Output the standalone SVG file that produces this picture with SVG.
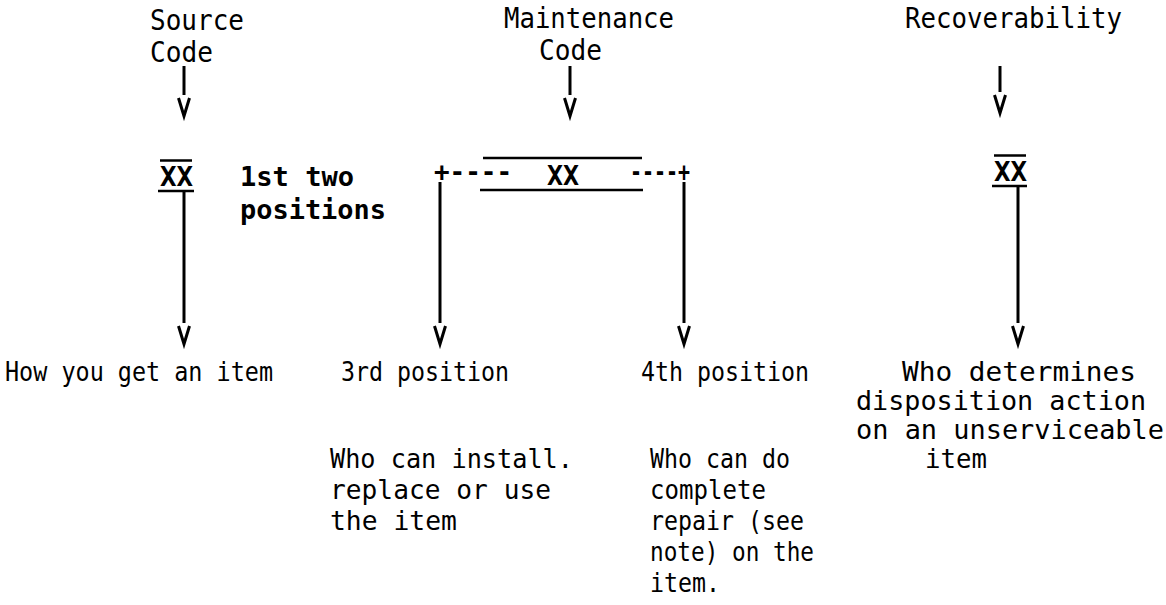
<svg xmlns="http://www.w3.org/2000/svg" width="1166" height="605" viewBox="0 0 1166 605">
<style>
.t{font-family:"DejaVu Sans Mono","Liberation Mono",monospace;font-size:27px;fill:#000}
.top{font-size:29px}
.b{font-family:"DejaVu Sans Mono","Liberation Mono",monospace;font-size:26px;font-weight:bold;fill:#000}
.ln{stroke:#000;stroke-width:2.5;fill:none}
.stem{stroke:#000;stroke-width:3;fill:none}
</style>
<defs>
<marker id="vh" markerUnits="userSpaceOnUse" orient="auto" refX="0" refY="0" markerWidth="30" markerHeight="20" overflow="visible">
<path d="M3,-5.5 L21,0 L3,5.5" fill="none" stroke="#000" stroke-width="3" stroke-linejoin="miter"/>
</marker>
</defs>
<rect width="1166" height="605" fill="#fff"/>

<g id="label-source">
<text class="t top" x="150" y="30" textLength="94" lengthAdjust="spacingAndGlyphs">Source</text>
<text class="t top" x="150" y="62" textLength="63" lengthAdjust="spacingAndGlyphs">Code</text>
</g>
<g id="label-maintenance">
<text class="t top" x="504" y="28" textLength="170" lengthAdjust="spacingAndGlyphs">Maintenance</text>
<text class="t top" x="539" y="60" textLength="63" lengthAdjust="spacingAndGlyphs">Code</text>
</g>
<g id="label-recoverability">
<text class="t top" x="905" y="28" textLength="217" lengthAdjust="spacingAndGlyphs">Recoverability</text>
</g>

<g id="node-source-xx">
<line class="ln" x1="160" y1="160.5" x2="192" y2="160.5"/>
<text class="b" x="160" y="186" textLength="33" lengthAdjust="spacingAndGlyphs">XX</text>
<line class="ln" x1="158" y1="191" x2="194" y2="191"/>
</g>
<g id="note-first-two">
<text class="b" x="240" y="186" textLength="114" lengthAdjust="spacingAndGlyphs">1st two</text>
<text class="b" x="240" y="219" textLength="146" lengthAdjust="spacingAndGlyphs">positions</text>
</g>
<g id="node-maintenance-xx">
<line class="ln" x1="483" y1="158" x2="642" y2="158"/>
<line class="ln" x1="480" y1="190" x2="643" y2="190"/>
<text class="b" x="434" y="181" textLength="78" lengthAdjust="spacingAndGlyphs">+----</text>
<text class="b" x="547" y="185" textLength="32" lengthAdjust="spacingAndGlyphs">XX</text>
<text class="b" x="630" y="181" textLength="60" lengthAdjust="spacingAndGlyphs">----+</text>
</g>
<g id="node-recoverability-xx">
<line class="ln" x1="994" y1="155.5" x2="1026" y2="155.5"/>
<text class="b" x="994" y="181" textLength="33" lengthAdjust="spacingAndGlyphs">XX</text>
<line class="ln" x1="992" y1="186" x2="1027" y2="186"/>
</g>

<g id="connectors">
<line class="stem" x1="184" y1="66" x2="184" y2="95" marker-end="url(#vh)"/>
<line class="stem" x1="570" y1="66" x2="570" y2="95" marker-end="url(#vh)"/>
<line class="stem" x1="1000" y1="66" x2="1000" y2="92" marker-end="url(#vh)"/>
<line class="stem" x1="184" y1="192" x2="184" y2="323" marker-end="url(#vh)"/>
<line class="stem" x1="440" y1="182" x2="440" y2="323" marker-end="url(#vh)"/>
<line class="stem" x1="684" y1="182" x2="684" y2="323" marker-end="url(#vh)"/>
<line class="stem" x1="1018" y1="187" x2="1018" y2="323" marker-end="url(#vh)"/>
</g>

<g id="out-source">
<text class="t" x="5" y="381" textLength="268" lengthAdjust="spacingAndGlyphs">How you get an item</text>
</g>
<g id="out-third">
<text class="t" x="341" y="381" textLength="168" lengthAdjust="spacingAndGlyphs">3rd position</text>
<text class="t" x="330" y="468" textLength="243" lengthAdjust="spacingAndGlyphs">Who can install.</text>
<text class="t" x="330" y="499" textLength="221" lengthAdjust="spacingAndGlyphs">replace or use</text>
<text class="t" x="330" y="530" textLength="127" lengthAdjust="spacingAndGlyphs">the item</text>
</g>
<g id="out-fourth">
<text class="t" x="641" y="381" textLength="168" lengthAdjust="spacingAndGlyphs">4th position</text>
<text class="t" x="650" y="468" textLength="140" lengthAdjust="spacingAndGlyphs">Who can do</text>
<text class="t" x="650" y="499" textLength="116" lengthAdjust="spacingAndGlyphs">complete</text>
<text class="t" x="650" y="530" textLength="154" lengthAdjust="spacingAndGlyphs">repair (see</text>
<text class="t" x="650" y="561" textLength="164" lengthAdjust="spacingAndGlyphs">note) on the</text>
<text class="t" x="650" y="592" textLength="70" lengthAdjust="spacingAndGlyphs">item.</text>
</g>
<g id="out-recoverability">
<text class="t" x="902" y="381" textLength="234" lengthAdjust="spacingAndGlyphs">Who determines</text>
<text class="t" x="856" y="410" textLength="290" lengthAdjust="spacingAndGlyphs">disposition action</text>
<text class="t" x="856" y="439" textLength="308" lengthAdjust="spacingAndGlyphs">on an unserviceable</text>
<text class="t" x="925" y="468" textLength="62" lengthAdjust="spacingAndGlyphs">item</text>
</g>
</svg>
